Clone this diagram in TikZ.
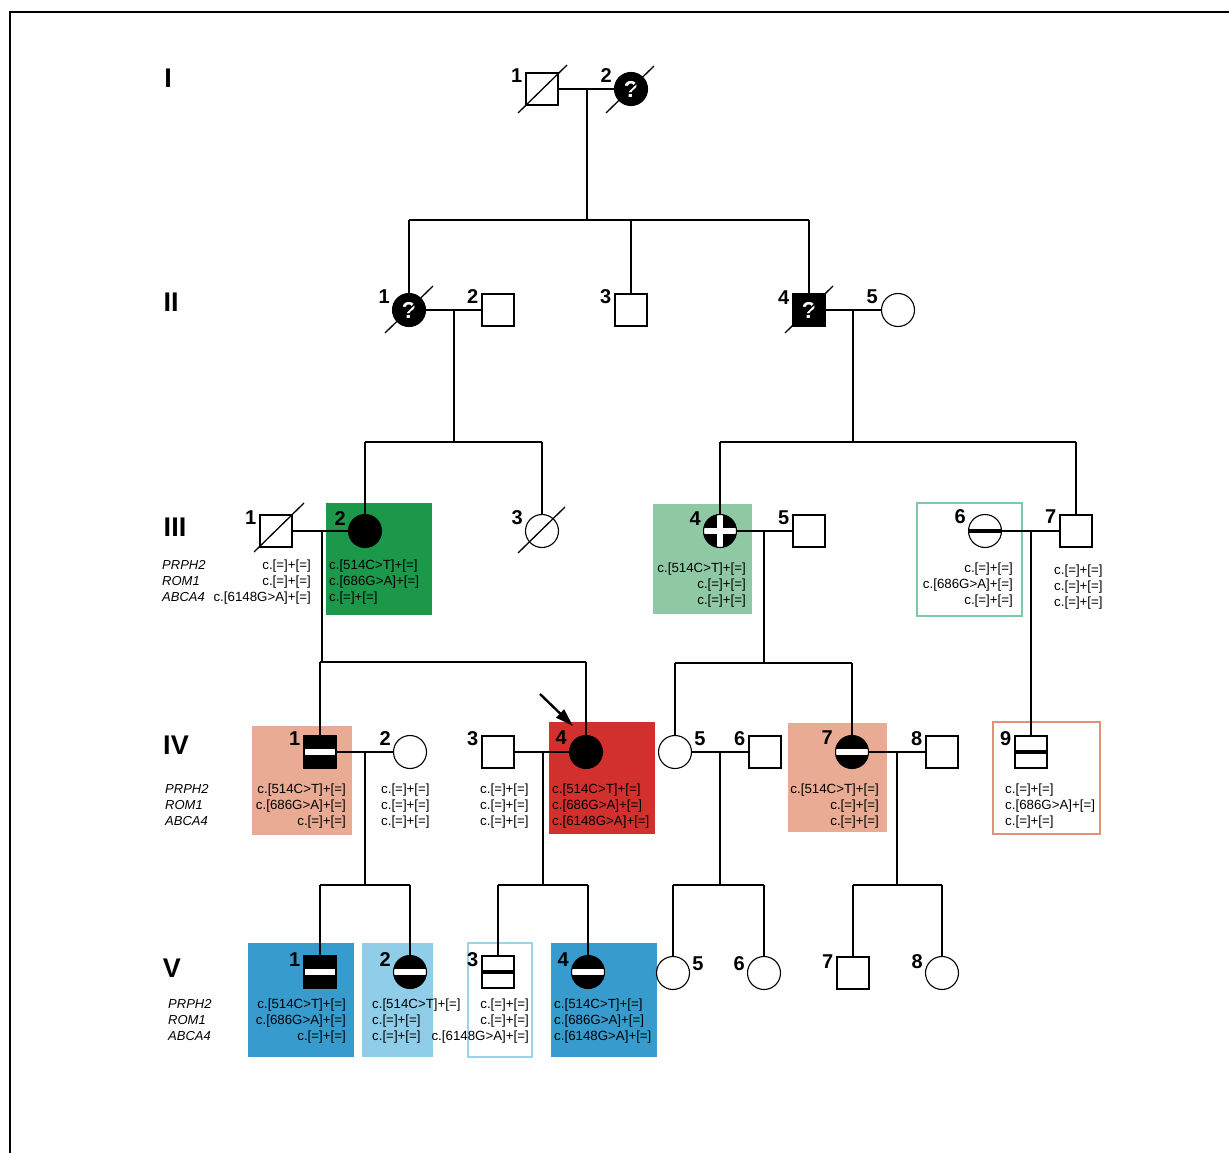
\documentclass[tikz,border=0pt]{standalone}
\usepackage{fontspec}
\setmainfont{Liberation Sans}
\usetikzlibrary{arrows.meta,calc}
\definecolor{dgreen}{RGB}{27,152,74}
\definecolor{lgreen}{RGB}{143,201,163}
\definecolor{ogreen}{RGB}{124,201,165}
\definecolor{salmon}{RGB}{233,171,147}
\definecolor{osalmon}{RGB}{226,145,115}
\definecolor{dred}{RGB}{210,48,44}
\definecolor{dblue}{RGB}{55,155,205}
\definecolor{lblue}{RGB}{143,205,233}
\definecolor{oblue}{RGB}{155,211,234}
\begin{document}
\begin{tikzpicture}[x=1pt,y=-1pt,
  ln/.style={line width=1.1pt,black},
  sq/.style={rectangle,draw,line width=1.1pt,minimum size=32pt,inner sep=0pt,fill=white},
  ci/.style={circle,draw,line width=1.1pt,minimum size=33pt,inner sep=0pt,fill=white},
  aff/.style={fill=black,text=white,font=\fontsize{23}{23}\selectfont\bfseries},
  wbar/.style={path picture={\fill[white] ([yshift=-2.7pt]path picture bounding box.west) rectangle ([yshift=2.7pt]path picture bounding box.east);}},
  bbar/.style={path picture={\fill[black] ([yshift=-2.4pt]path picture bounding box.west) rectangle ([yshift=2.4pt]path picture bounding box.east);}},
  wcross/.style={path picture={\fill[white] ([yshift=-2.6pt]path picture bounding box.west) rectangle ([yshift=2.6pt]path picture bounding box.east);
     \fill[white] ([xshift=-2.6pt]path picture bounding box.north) rectangle ([xshift=2.6pt]path picture bounding box.south);}},
  num/.style={font=\fontsize{20}{20}\selectfont\bfseries,inner sep=0pt},
  gen/.style={font=\fontsize{27}{27}\selectfont\bfseries,inner sep=0pt},
  gt/.style={font=\fontsize{13.3}{16}\selectfont,inner sep=0pt},
  gene/.style={font=\fontsize{13}{16}\selectfont\itshape,inner sep=0pt,align=left,anchor=north west},
  slash/.style={line width=1.3pt,black}
]
\useasboundingbox (0,0) rectangle (1229,1153);
\draw[line width=2pt] (10,1153) -- (10,12) -- (1229,12);

% coloured boxes
\fill[dgreen] (326,503) rectangle (432,615);
\fill[lgreen] (653,504) rectangle (752,614);
\draw[ogreen,line width=1.6pt] (917,503) rectangle (1022,616);
\fill[salmon] (252,726) rectangle (352,835);
\fill[dred] (549,722) rectangle (655,834);
\fill[salmon] (788,723) rectangle (887,832);
\draw[osalmon,line width=1.6pt] (993,722) rectangle (1100,834);
\fill[dblue] (248,943) rectangle (354,1057);
\fill[lblue] (362,943) rectangle (433,1057);
\draw[oblue,line width=1.6pt] (468,943) rectangle (532,1057);
\fill[dblue] (551,943) rectangle (657,1057);

% generation labels
\node[gen] (gI) at (168,78) {I};
\node[gen] (gII) at (171,302) {II};
\node[gen] (gIII) at (175,527) {III};
\node[gen] (gIV) at (176,745) {IV};
\node[gen] (gV) at (172,968) {V};

% coordinates for marriage / sibship lines
\coordinate (m1) at (587,89);   \coordinate (s1) at (587,220);
\coordinate (m2) at (454,310);  \coordinate (s2) at (454,442);
\coordinate (m3) at (853,310);  \coordinate (s3) at (853,442);
\coordinate (m4) at (322,531);  \coordinate (s4) at (322,662);
\coordinate (m5) at (764,531);  \coordinate (s5) at (764,663);
\coordinate (m6) at (1031,531);
\coordinate (m7) at (365,752);  \coordinate (s7) at (365,885);
\coordinate (m8) at (543,752);  \coordinate (s8) at (543,885);
\coordinate (m9) at (720,752);  \coordinate (s9) at (720,885);
\coordinate (m10) at (897,752); \coordinate (s10) at (897,885);

% ---------- Generation I
\node[sq] (i1) at (542,89) {};
\node[ci,aff] (i2) at (631,89) {?};
% ---------- Generation II
\node[ci,aff] (ii1) at (409,310) {?};
\node[sq] (ii2) at (498,310) {};
\node[sq] (ii3) at (631,310) {};
\node[sq,aff] (ii4) at (809,310) {?};
\node[ci] (ii5) at (898,310) {};
% ---------- Generation III
\node[sq] (iii1) at (276,531) {};
\node[ci,fill=black] (iii2) at (365,531) {};
\node[ci] (iii3) at (542,531) {};
\node[ci,fill=black,wcross] (iii4) at (720,531) {};
\node[sq] (iii5) at (809,531) {};
\node[ci,bbar] (iii6) at (985,531) {};
\node[sq] (iii7) at (1076,531) {};
% ---------- Generation IV
\node[sq,fill=black,wbar] (iv1) at (320,752) {};
\node[ci] (iv2) at (410,752) {};
\node[sq] (iv3) at (498,752) {};
\node[ci,fill=black] (iv4) at (586,752) {};
\node[ci] (iv5) at (675,752) {};
\node[sq] (iv6) at (765,752) {};
\node[ci,fill=black,wbar] (iv7) at (852,752) {};
\node[sq] (iv8) at (942,752) {};
\node[sq,bbar] (iv9) at (1031,752) {};
% ---------- Generation V
\node[sq,fill=black,wbar] (v1) at (320,972) {};
\node[ci,fill=black,wbar] (v2) at (410,972) {};
\node[sq,bbar] (v3) at (498,972) {};
\node[ci,fill=black,wbar] (v4) at (588,972) {};
\node[ci] (v5) at (673,973) {};
\node[ci] (v6) at (764,973) {};
\node[sq] (v7) at (853,973) {};
\node[ci] (v8) at (942,973) {};

% ---------- connectors
\draw[ln] (i1) -- (i2);
\draw[ln] (m1) -- (s1);
\draw[ln] (ii1 |- s1) -- (ii4 |- s1);
\draw[ln] (ii1 |- s1) -- (ii1);
\draw[ln] (ii3 |- s1) -- (ii3);
\draw[ln] (ii4 |- s1) -- (ii4);

\draw[ln] (ii1) -- (ii2);
\draw[ln] (m2) -- (s2);
\draw[ln] (iii2 |- s2) -- (iii3 |- s2);
\draw[ln] (iii2 |- s2) -- (iii2);
\draw[ln] (iii3 |- s2) -- (iii3);

\draw[ln] (ii4) -- (ii5);
\draw[ln] (m3) -- (s3);
\draw[ln] (iii4 |- s3) -- (iii7 |- s3);
\draw[ln] (iii4 |- s3) -- (iii4);
\draw[ln] (iii7 |- s3) -- (iii7);

\draw[ln] (iii1) -- (iii2);
\draw[ln] (m4) -- (s4);
\draw[ln] (iv1 |- s4) -- (iv4 |- s4);
\draw[ln] (iv1 |- s4) -- (iv1);
\draw[ln] (iv4 |- s4) -- (iv4);

\draw[ln] (iii4) -- (iii5);
\draw[ln] (m5) -- (s5);
\draw[ln] (iv5 |- s5) -- (iv7 |- s5);
\draw[ln] (iv5 |- s5) -- (iv5);
\draw[ln] (iv7 |- s5) -- (iv7);

\draw[ln] (iii6) -- (iii7);
\draw[ln] (m6) -- (iv9);

\draw[ln] (iv1) -- (iv2);
\draw[ln] (m7) -- (s7);
\draw[ln] (v1 |- s7) -- (v2 |- s7);
\draw[ln] (v1 |- s7) -- (v1);
\draw[ln] (v2 |- s7) -- (v2);

\draw[ln] (iv3) -- (iv4);
\draw[ln] (m8) -- (s8);
\draw[ln] (v3 |- s8) -- (v4 |- s8);
\draw[ln] (v3 |- s8) -- (v3);
\draw[ln] (v4 |- s8) -- (v4);

\draw[ln] (iv5) -- (iv6);
\draw[ln] (m9) -- (s9);
\draw[ln] (v5 |- s9) -- (v6 |- s9);
\draw[ln] (v5 |- s9) -- (v5);
\draw[ln] (v6 |- s9) -- (v6);

\draw[ln] (iv7) -- (iv8);
\draw[ln] (m10) -- (s10);
\draw[ln] (v7 |- s10) -- (v8 |- s10);
\draw[ln] (v7 |- s10) -- (v7);
\draw[ln] (v8 |- s10) -- (v8);

% deceased slashes
\draw[slash] ([shift={(-24,24)}]i1.center) -- ([shift={(25,-24)}]i1.center);
\draw[slash] ([shift={(-25,24)}]i2.center) -- ([shift={(23,-23)}]i2.center);
\draw[slash] ([shift={(-24,23)}]ii1.center) -- ([shift={(24,-24)}]ii1.center);
\draw[slash] ([shift={(-24,23)}]ii4.center) -- ([shift={(24,-24)}]ii4.center);
\draw[slash] ([shift={(-22,21)}]iii1.center) -- ([shift={(28,-28)}]iii1.center);
\draw[slash] ([shift={(-24,22)}]iii3.center) -- ([shift={(23,-24)}]iii3.center);

% proband arrow
\coordinate (pa) at (540,694);
\coordinate (pb) at (573,726);
\draw[line width=2.4pt,-{Triangle[length=18pt,width=11pt]}] (pa) -- (pb);

% individual numbers
\node[num,anchor=east] (n-i1) at ($(i1.west)+(-3,-13)$) {1};
\node[num,anchor=east] (n-i2) at ($(i2.west)+(-2,-13)$) {2};
\node[num,anchor=east] (n-ii1) at ($(ii1.west)+(-2,-13)$) {1};
\node[num,anchor=east] (n-ii2) at ($(ii2.west)+(-3,-13)$) {2};
\node[num,anchor=east] (n-ii3) at ($(ii3.west)+(-3,-13)$) {3};
\node[num,anchor=east] (n-ii4) at ($(ii4.west)+(-3,-12)$) {4};
\node[num,anchor=east] (n-ii5) at ($(ii5.west)+(-3,-13)$) {5};
\node[num,anchor=east] (n-iii1) at ($(iii1.west)+(-3,-13)$) {1};
\node[num,anchor=east] (n-iii2) at ($(iii2.west)+(-2,-12)$) {2};
\node[num,anchor=east] (n-iii3) at ($(iii3.west)+(-2,-13)$) {3};
\node[num,anchor=east] (n-iii4) at ($(iii4.west)+(-2,-12)$) {4};
\node[num,anchor=east] (n-iii5) at ($(iii5.west)+(-3,-13)$) {5};
\node[num,anchor=east] (n-iii6) at ($(iii6.west)+(-2,-14)$) {6};
\node[num,anchor=east] (n-iii7) at ($(iii7.west)+(-3,-14)$) {7};
\node[num,anchor=east] (n-iv1) at ($(iv1.west)+(-3,-13)$) {1};
\node[num,anchor=east] (n-iv2) at ($(iv2.west)+(-2,-13)$) {2};
\node[num,anchor=east] (n-iv3) at ($(iv3.west)+(-3,-13)$) {3};
\node[num,anchor=east] (n-iv4) at ($(iv4.west)+(-2,-14)$) {4};
\node[num,anchor=west] (n-iv5) at ($(iv5.east)+(2,-13)$) {5};
\node[num,anchor=east] (n-iv6) at ($(iv6.west)+(-3,-13)$) {6};
\node[num,anchor=east] (n-iv7) at ($(iv7.west)+(-2,-14)$) {7};
\node[num,anchor=east] (n-iv8) at ($(iv8.west)+(-3,-13)$) {8};
\node[num,anchor=east] (n-iv9) at ($(iv9.west)+(-3,-13)$) {9};
\node[num,anchor=east] (n-v1) at ($(v1.west)+(-3,-12)$) {1};
\node[num,anchor=east] (n-v2) at ($(v2.west)+(-2,-12)$) {2};
\node[num,anchor=east] (n-v3) at ($(v3.west)+(-3,-12)$) {3};
\node[num,anchor=east] (n-v4) at ($(v4.west)+(-2,-12)$) {4};
\node[num,anchor=west] (n-v5) at ($(v5.east)+(2,-9)$) {5};
\node[num,anchor=east] (n-v6) at ($(v6.west)+(-2,-9)$) {6};
\node[num,anchor=east] (n-v7) at ($(v7.west)+(-3,-11)$) {7};
\node[num,anchor=east] (n-v8) at ($(v8.west)+(-2,-11)$) {8};

% gene names
\node[gene] (gn3) at (162,560) {PRPH2\\ROM1\\ABCA4};
\node[gene] (gn4) at (165,784) {PRPH2\\ROM1\\ABCA4};
\node[gene] (gn5) at (168,999) {PRPH2\\ROM1\\ABCA4};

% genotypes
\node[gt,align=right,anchor=north east] (t-iii1) at (311,560) {c.[=]+[=]\\c.[=]+[=]\\c.[6148G>A]+[=]};
\node[gt,align=left,anchor=north west] (t-iii2) at (329,560) {c.[514C>T]+[=]\\c.[686G>A]+[=]\\c.[=]+[=]};
\node[gt,align=right,anchor=north east] (t-iii4) at (746,563) {c.[514C>T]+[=]\\c.[=]+[=]\\c.[=]+[=]};
\node[gt,align=right,anchor=north east] (t-iii6) at (1013,563) {c.[=]+[=]\\c.[686G>A]+[=]\\c.[=]+[=]};
\node[gt,align=left,anchor=north west] (t-iii7) at (1054,565) {c.[=]+[=]\\c.[=]+[=]\\c.[=]+[=]};

\node[gt,align=right,anchor=north east] (t-iv1) at (346,784) {c.[514C>T]+[=]\\c.[686G>A]+[=]\\c.[=]+[=]};
\node[gt,align=left,anchor=north west] (t-iv2) at (381,784) {c.[=]+[=]\\c.[=]+[=]\\c.[=]+[=]};
\node[gt,align=left,anchor=north west] (t-iv3) at (480,784) {c.[=]+[=]\\c.[=]+[=]\\c.[=]+[=]};
\node[gt,align=left,anchor=north west] (t-iv4) at (552,784) {c.[514C>T]+[=]\\c.[686G>A]+[=]\\c.[6148G>A]+[=]};
\node[gt,align=right,anchor=north east] (t-iv7) at (879,784) {c.[514C>T]+[=]\\c.[=]+[=]\\c.[=]+[=]};
\node[gt,align=left,anchor=north west] (t-iv9) at (1005,784) {c.[=]+[=]\\c.[686G>A]+[=]\\c.[=]+[=]};

\node[gt,align=right,anchor=north east] (t-v1) at (346,999) {c.[514C>T]+[=]\\c.[686G>A]+[=]\\c.[=]+[=]};
\node[gt,align=left,anchor=north west] (t-v2) at (372,999) {c.[514C>T]+[=]\\c.[=]+[=]\\c.[=]+[=]};
\node[gt,align=right,anchor=north east] (t-v3) at (529,999) {c.[=]+[=]\\c.[=]+[=]\\c.[6148G>A]+[=]};
\node[gt,align=left,anchor=north west] (t-v4) at (554,999) {c.[514C>T]+[=]\\c.[686G>A]+[=]\\c.[6148G>A]+[=]};
\end{tikzpicture}
\end{document}
